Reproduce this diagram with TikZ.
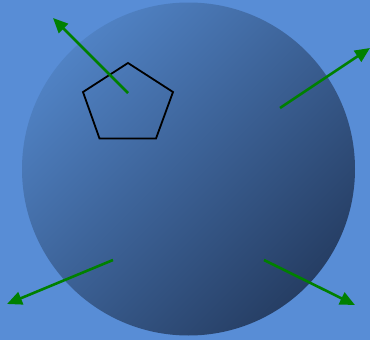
\documentclass[tikz,border=0pt]{standalone}
\usetikzlibrary{arrows.meta}
\definecolor{skyback}{RGB}{88,141,214}
\definecolor{globelight}{RGB}{80,130,196}
\definecolor{globedark}{RGB}{38,62,100}
\definecolor{arrowgreen}{RGB}{0,128,0}

\tikzset{
  outarrow/.style={arrowgreen,line width=2.6pt,
    -{Triangle[length=15pt,width=13pt]}},
  pentline/.style={black,line width=1.8pt,line join=miter}
}

\begin{document}
\begin{tikzpicture}[x=1pt,y=-1pt]
        \fill[skyback] (0,0) rectangle (370,340);
        \useasboundingbox (0,0) rectangle (370,340);

        % globe
        \shade[top color=globelight,bottom color=globedark,shading angle=45]
          (188.5,169) circle (166.5);

        % pentagon
        \coordinate (p1) at (128,63);
        \coordinate (p2) at (173,92);
        \coordinate (p3) at (156,138.5);
        \coordinate (p4) at (99.5,138.5);
        \coordinate (p5) at (83,92);
        \draw[pentline] (p1) -- (p2) -- (p3) -- (p4) -- (p5) -- cycle;

        % arrows
        \coordinate (nwstart) at (128,93);
        \coordinate (nwend) at (53,18);
        \coordinate (nestart) at (280,108);
        \coordinate (neend) at (370,48);
        \coordinate (swstart) at (113,260);
        \coordinate (swend) at (7,304);
        \coordinate (sestart) at (264,260);
        \coordinate (seend) at (355,305);
        \draw[outarrow] (nwstart) -- (nwend);
        \draw[outarrow] (nestart) -- (neend);
        \draw[outarrow] (swstart) -- (swend);
        \draw[outarrow] (sestart) -- (seend);
      \end{tikzpicture}
\end{document}
